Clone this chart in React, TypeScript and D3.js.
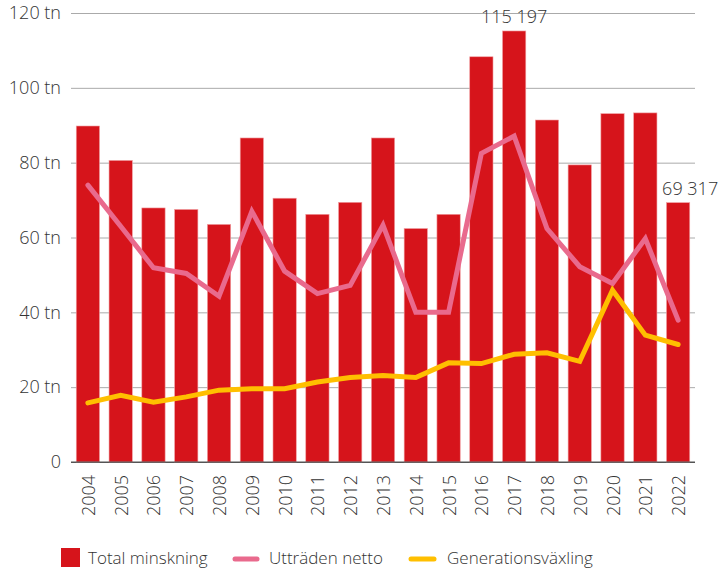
import React, { useEffect, useRef } from 'react';
import * as d3 from 'd3';

const width = 721;
const height = 568;
const margin = { top: 13, right: 26, bottom: 106, left: 71 };

const years = [
  '2004', '2005', '2006', '2007', '2008', '2009', '2010', '2011', '2012', '2013',
  '2014', '2015', '2016', '2017', '2018', '2019', '2020', '2021', '2022',
];
const totalMinskning = [
  89.8, 80.6, 67.9, 67.5, 63.5, 86.6, 70.5, 66.2, 69.4, 86.6,
  62.4, 66.2, 108.3, 115.197, 91.4, 79.4, 93.1, 93.3, 69.317,
];
const uttradenNetto = [
  74.0, 63.0, 51.9, 50.4, 44.3, 67.0, 51.0, 45.0, 47.2, 63.3,
  40.0, 40.0, 82.5, 87.1, 62.4, 52.2, 47.7, 59.7, 37.9,
];
const generationsvaxling = [
  15.8, 17.8, 16.0, 17.4, 19.2, 19.6, 19.6, 21.4, 22.6, 23.1,
  22.6, 26.5, 26.3, 28.8, 29.2, 26.9, 45.9, 33.9, 31.4,
];
const yTicks = [0, 20, 40, 60, 80, 100, 120];
const annotations = [
  { year: '2017', label: '115 197' },
  { year: '2022', label: '69 317' },
];

const RED = '#d6141b';
const PINK = '#e96a8d';
const YELLOW = '#ffbf00';
const FONT = "'Open Sans', 'DejaVu Sans', sans-serif";
const TEXT = '#333';

export default function App() {
  const ref = useRef<SVGSVGElement>(null);

  useEffect(() => {
    if (!ref.current) return;
    const root = d3.select(ref.current);
    root.selectAll('*').remove();

    const innerW = width - margin.left - margin.right;
    const innerH = height - margin.top - margin.bottom;

    const x = d3
      .scaleBand<string>()
      .domain(years)
      .range([0, innerW])
      .paddingInner(0.29)
      .paddingOuter(0.16);
    const y = d3.scaleLinear().domain([0, 120]).range([innerH, 0]);

    const svg = root
      .append('g')
      .attr('transform', `translate(${margin.left}, ${margin.top})`);

    // gridlines + y labels
    const yAxis = svg
      .append('g')
      .call(
        d3
          .axisLeft(y)
          .tickValues(yTicks)
          .tickSizeInner(-innerW)
          .tickSizeOuter(0)
          .tickPadding(10)
          .tickFormat((d) => (+d === 0 ? '0' : `${d} tn`))
      );
    yAxis.select('.domain').remove();
    yAxis
      .selectAll('.tick line')
      .attr('stroke', (d) => (+d === 0 ? '#555' : '#aaa'))
      .attr('stroke-width', 1);
    yAxis
      .selectAll('.tick text')
      .attr('fill', TEXT)
      .attr('font-family', FONT)
      .attr('font-weight', 300)
      .attr('font-size', 18);

    // bars
    svg
      .selectAll('rect.bar')
      .data(years)
      .enter()
      .append('rect')
      .attr('class', 'bar')
      .attr('x', (d) => x(d) ?? 0)
      .attr('width', x.bandwidth())
      .attr('y', (_, i) => y(totalMinskning[i]))
      .attr('height', (_, i) => innerH - y(totalMinskning[i]))
      .attr('fill', RED)
      .attr('stroke', '#f1a0a3')
      .attr('stroke-width', 0.6);

    // redraw baseline over bars
    svg
      .append('line')
      .attr('x1', 0)
      .attr('x2', innerW)
      .attr('y1', y(0))
      .attr('y2', y(0))
      .attr('stroke', '#555');

    const cx = (d: string) => (x(d) ?? 0) + x.bandwidth() / 2;

    const drawLine = (vals: number[], color: string) => {
      const line = d3
        .line<string>()
        .x((d) => cx(d))
        .y((_, i) => y(vals[i]));
      svg
        .append('path')
        .datum(years)
        .attr('d', line)
        .attr('fill', 'none')
        .attr('stroke', color)
        .attr('stroke-width', 5)
        .attr('stroke-linejoin', 'miter')
        .attr('stroke-linecap', 'round');
    };
    drawLine(uttradenNetto, PINK);
    drawLine(generationsvaxling, YELLOW);

    // x labels
    svg
      .selectAll('text.xl')
      .data(years)
      .enter()
      .append('text')
      .attr('class', 'xl')
      .attr(
        'transform',
        (d) => `translate(${cx(d) + 7}, ${innerH + 13}) rotate(-90)`
      )
      .attr('text-anchor', 'end')
      .attr('fill', TEXT)
      .attr('font-family', FONT)
      .attr('font-weight', 300)
      .attr('font-size', 18)
      .text((d) => d);

    // annotations
    annotations.forEach((a) => {
      const i = years.indexOf(a.year);
      const last = i === years.length - 1;
      svg
        .append('text')
        .attr('x', last ? cx(a.year) - 16 : cx(a.year))
        .attr('y', y(totalMinskning[i]) - 8)
        .attr('text-anchor', last ? 'start' : 'middle')
        .attr('fill', TEXT)
        .attr('font-family', FONT)
        .attr('font-weight', 300)
        .attr('font-size', 18)
        .text(a.label);
    });

    // legend
    const legend = root.append('g').attr('transform', 'translate(0, 558)');
    legend
      .append('rect')
      .attr('x', 61)
      .attr('y', -10)
      .attr('width', 19)
      .attr('height', 19)
      .attr('fill', RED);
    legend
      .append('line')
      .attr('x1', 235)
      .attr('x2', 257)
      .attr('y1', 1)
      .attr('y2', 1)
      .attr('stroke', PINK)
      .attr('stroke-width', 5)
      .attr('stroke-linecap', 'round');
    legend
      .append('line')
      .attr('x1', 411)
      .attr('x2', 434)
      .attr('y1', 1)
      .attr('y2', 1)
      .attr('stroke', YELLOW)
      .attr('stroke-width', 5)
      .attr('stroke-linecap', 'round');
    [
      { x: 88, t: 'Total minskning' },
      { x: 269, t: 'Utträden netto' },
      { x: 447, t: 'Generationsväxling' },
    ].forEach((l) => {
      legend
        .append('text')
        .attr('x', l.x)
        .attr('y', 6)
        .attr('fill', TEXT)
        .attr('font-family', FONT)
        .attr('font-weight', 300)
        .attr('font-size', 17)
        .text(l.t);
    });
  }, []);

  return (
    <div style={{ position: 'absolute', left: 0, top: 0 }}>
      <svg ref={ref} width={width} height={height} />
    </div>
  );
}
